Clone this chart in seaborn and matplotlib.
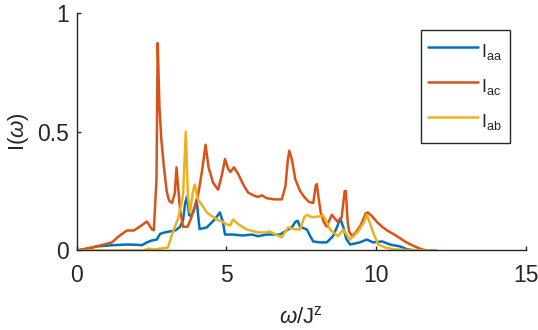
import pandas as pd
import matplotlib
matplotlib.use("Agg")
import matplotlib.pyplot as plt
import seaborn as sns

# spectral weights
x_aa = [0, 0.3, 0.67, 1.17, 1.67, 2.0, 2.17, 2.34, 2.5, 2.67, 2.78, 2.94, 3.1, 3.3,
        3.45, 3.55, 3.62, 3.68, 3.75, 3.82, 3.9, 4.0, 4.05, 4.1, 4.34, 4.6, 4.78,
        4.88, 4.95, 5.22, 5.55, 5.85, 6.05, 6.35, 6.79, 7.06, 7.2, 7.3, 7.38, 7.46,
        7.69, 7.8, 7.9, 8.13, 8.35, 8.56, 8.7, 8.8, 8.9, 9.0, 9.13, 9.46, 9.69,
        9.9, 10.2, 10.47, 10.8, 11.04, 11.3, 12.0]
i_aa = [0, 0.007, 0.017, 0.022, 0.025, 0.024, 0.022, 0.034, 0.042, 0.046, 0.07,
        0.076, 0.08, 0.085, 0.1, 0.13, 0.2, 0.227, 0.15, 0.143, 0.165, 0.214, 0.15,
        0.09, 0.097, 0.13, 0.16, 0.12, 0.067, 0.067, 0.063, 0.067, 0.06, 0.067,
        0.067, 0.088, 0.1, 0.12, 0.125, 0.1, 0.088, 0.06, 0.038, 0.034, 0.034,
        0.06, 0.1, 0.135, 0.1, 0.05, 0.025, 0.034, 0.046, 0.034, 0.038, 0.025,
        0.017, 0.005, 0.0, 0.0]

x_ac = [0, 0.5, 1.17, 1.4, 1.67, 1.9, 2.1, 2.34, 2.5, 2.57, 2.66, 2.70, 2.76, 2.82,
        2.9, 3.0, 3.08, 3.18, 3.27, 3.33, 3.38, 3.45, 3.55, 3.7, 3.8, 3.9, 4.0,
        4.1, 4.2, 4.3, 4.4, 4.55, 4.72, 4.85, 4.95, 5.05, 5.13, 5.25, 5.4, 5.55,
        5.72, 5.9, 6.05, 6.18, 6.35, 6.6, 6.85, 6.97, 7.05, 7.1, 7.19, 7.3, 7.46,
        7.6, 7.75, 7.9, 7.98, 8.02, 8.08, 8.15, 8.25, 8.35, 8.45, 8.52, 8.62, 8.72,
        8.85, 8.95, 8.99, 9.05, 9.1, 9.2, 9.35, 9.5, 9.65, 9.72, 9.86, 10.03, 10.2,
        10.36, 10.7, 11.0, 11.24, 11.5, 11.7, 12.0]
i_ac = [0, 0.012, 0.034, 0.06, 0.084, 0.084, 0.1, 0.122, 0.09, 0.085, 0.3, 0.873,
        0.6, 0.47, 0.36, 0.25, 0.21, 0.2, 0.24, 0.35, 0.27, 0.17, 0.1, 0.1, 0.13,
        0.17, 0.2, 0.27, 0.35, 0.445, 0.35, 0.285, 0.256, 0.32, 0.385, 0.345,
        0.33, 0.35, 0.32, 0.28, 0.244, 0.232, 0.225, 0.232, 0.22, 0.215, 0.215,
        0.27, 0.38, 0.42, 0.38, 0.3, 0.25, 0.225, 0.205, 0.2, 0.27, 0.28, 0.22,
        0.16, 0.12, 0.1, 0.13, 0.15, 0.135, 0.12, 0.14, 0.25, 0.25, 0.12, 0.08,
        0.06, 0.08, 0.11, 0.155, 0.16, 0.145, 0.12, 0.1, 0.085, 0.06, 0.035, 0.02,
        0.006, 0.0, 0.0]

x_ab = [0, 2.2, 2.4, 2.55, 3.04, 3.2, 3.37, 3.5, 3.55, 3.64, 3.71, 3.78, 3.88,
        3.94, 4.04, 4.1, 4.34, 4.45, 4.68, 4.88, 5.0, 5.12, 5.22, 5.4, 5.68, 6.05,
        6.29, 6.45, 6.6, 6.85, 7.06, 7.25, 7.46, 7.6, 7.69, 7.86, 8.07, 8.23, 8.35,
        8.46, 8.73, 8.9, 9.13, 9.4, 9.6, 9.69, 9.78, 9.9, 10.07, 10.3, 10.6, 11.0,
        12.0]
i_ab = [0, 0.0, 0.008, 0.004, 0.012, 0.075, 0.13, 0.2, 0.24, 0.5, 0.227, 0.16,
        0.25, 0.277, 0.214, 0.206, 0.16, 0.15, 0.13, 0.12, 0.11, 0.105, 0.13,
        0.11, 0.088, 0.076, 0.076, 0.08, 0.07, 0.055, 0.097, 0.09, 0.088, 0.14,
        0.15, 0.14, 0.143, 0.147, 0.12, 0.088, 0.06, 0.088, 0.046, 0.08, 0.12,
        0.15, 0.12, 0.076, 0.025, 0.013, 0.005, 0.002, 0.0]

labels = [r"I$_\mathrm{aa}$", r"I$_\mathrm{ac}$", r"I$_\mathrm{ab}$"]
colors = ["#0072BD", "#D95319", "#EDB120"]

df = pd.concat([
    pd.DataFrame({"w": x_aa, "I": i_aa, "comp": labels[0]}),
    pd.DataFrame({"w": x_ac, "I": i_ac, "comp": labels[1]}),
    pd.DataFrame({"w": x_ab, "I": i_ab, "comp": labels[2]}),
])

sns.set_style("ticks")
plt.rcParams["font.family"] = ["Liberation Sans", "DejaVu Sans"]
plt.rcParams["mathtext.fontset"] = "custom"
plt.rcParams["mathtext.rm"] = "Liberation Sans"
plt.rcParams["mathtext.it"] = "Liberation Sans:italic"

fig = plt.figure(figsize=(5.38, 3.30), dpi=100)
ax = fig.add_axes([0.143, 0.241, 0.834, 0.72])

sns.lineplot(data=df, x="w", y="I", hue="comp", palette=colors,
             estimator=None, linewidth=1.8, ax=ax)

ax.set_xlim(0, 15)
ax.set_ylim(0, 1)
ax.set_xticks([0, 5, 10, 15])
ax.set_yticks([0, 0.5, 1])
ax.set_yticklabels(["0", "0.5", "1"])
sns.despine(ax=ax)
for s in ["left", "bottom"]:
    ax.spines[s].set_color("#262626")
    ax.spines[s].set_linewidth(1.0)
ax.tick_params(direction="in", length=3.2, width=1.0, color="#262626",
               labelsize=16.5, labelcolor="#262626")
ax.tick_params(axis="x", pad=10)
ax.tick_params(axis="y", pad=6)

ax.set_xlabel(r"$\omega$/J$^\mathrm{z}$", fontsize=16, color="#262626", labelpad=14)
ax.set_ylabel(r"I($\omega$)", fontsize=16, color="#262626", labelpad=4)

leg = ax.legend(loc="upper right", bbox_to_anchor=(0.965, 0.928), borderaxespad=0,
                fancybox=False, edgecolor="#262626", fontsize=13,
                handlelength=2.77, handleheight=2.0, labelspacing=0.4,
                handletextpad=0.2, borderpad=0.4, framealpha=1)
leg.get_frame().set_linewidth(1.0)
for line in leg.get_lines():
    line.set_linewidth(1.8)

fig.savefig("out.png", dpi=100)
